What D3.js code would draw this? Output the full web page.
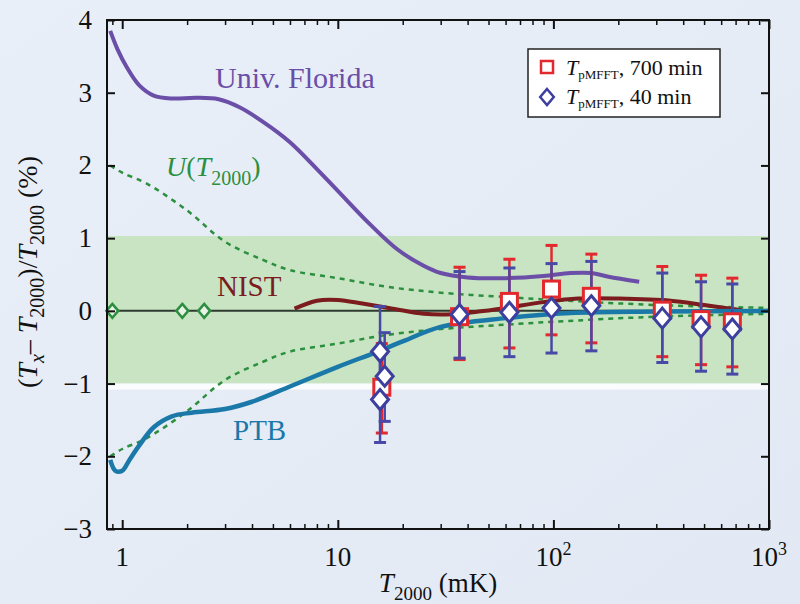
<!DOCTYPE html>
<html>
<head>
<meta charset="utf-8">
<script src="https://cdn.jsdelivr.net/npm/d3@7"></script>
<style>
 body { margin: 0; background: #e6edf7; }
</style>
</head>
<body>
<script>
const width = 800;
const height = 604;

// curves (T2000 in mK, deviation in %)
const floridaT = [0.88, 0.95, 1.05, 1.2, 1.4, 1.7, 2.2, 2.8, 3.5, 4.5, 6, 8, 10, 14, 19, 25, 30, 40, 60, 90, 120, 150, 180, 250];
const floridaD = [3.85, 3.6, 3.35, 3.1, 2.96, 2.92, 2.93, 2.91, 2.8, 2.6, 2.32, 1.95, 1.65, 1.2, 0.84, 0.62, 0.52, 0.46, 0.45, 0.48, 0.52, 0.52, 0.47, 0.40];

const uT = [0.88, 1.0, 1.3, 2.0, 3.0, 4.5, 6, 10, 17, 30, 60, 100, 300, 1000];
const uD = [2.0, 1.9, 1.75, 1.38, 0.95, 0.7, 0.56, 0.45, 0.33, 0.25, 0.19, 0.15, 0.08, 0.04];

const nistT = [6.3, 8, 10, 13, 18, 25, 32, 45, 60, 90, 130, 200, 350, 500, 750];
const nistD = [0.03, 0.14, 0.15, 0.1, 0.03, -0.04, -0.05, -0.01, 0.04, 0.12, 0.17, 0.17, 0.14, 0.08, 0.01];

const ptbT = [0.88, 0.93, 1.0, 1.08, 1.2, 1.4, 1.7, 2.1, 3.0, 4.0, 6, 10, 15, 20, 30, 60, 120, 300, 1000];
const ptbD = [-2.05, -2.2, -2.2, -2.05, -1.85, -1.6, -1.45, -1.4, -1.35, -1.25, -1.04, -0.77, -0.57, -0.42, -0.22, -0.1, -0.03, -0.01, 0];

// green diamonds on the zero line
const zeroT = [0.9, 1.9, 2.4];

// TpMFFT, 700 min (squares)
const sqT = [16.0, 36.7, 62.5, 98, 150, 320, 484, 676];
const sqD = [-1.05, -0.08, 0.13, 0.30, 0.20, 0.01, -0.12, -0.15];
const sqHi = [-0.45, 0.6, 0.71, 0.9, 0.78, 0.61, 0.49, 0.45];
const sqLo = [-1.68, -0.67, -0.51, -0.33, -0.44, -0.63, -0.74, -0.77];

// TpMFFT, 40 min (diamonds)
const dmT = [15.7, 16.5, 15.7, 36.7, 62.5, 98, 150, 320, 484, 676];
const dmD = [-0.56, -0.9, -1.22, -0.05, -0.02, 0.04, 0.07, -0.1, -0.22, -0.25];
const dmHi = [0.06, -0.3, -0.6, 0.54, 0.59, 0.65, 0.68, 0.52, 0.4, 0.37];
const dmLo = [-1.2, -1.52, -1.81, -0.65, -0.63, -0.58, -0.55, -0.71, -0.83, -0.87];

const yTicks = [-3, -2, -1, 0, 1, 2, 3, 4];
const xMajor = [1, 10, 100, 1000];
const xLabels = [["1", ""], ["10", ""], ["10", "2"], ["10", "3"]];

const svg = d3.select("body")
 .append("svg")
 .attr("width", width)
 .attr("height", height)
 .attr("font-family", "'Liberation Serif', 'Times New Roman', 'DejaVu Serif', serif");

const bg = svg.append("defs").append("linearGradient")
 .attr("id", "bg").attr("x1", 0).attr("y1", 0).attr("x2", 1).attr("y2", 1);
bg.append("stop").attr("offset", "0").attr("stop-color", "#e9eff8");
bg.append("stop").attr("offset", "1").attr("stop-color", "#e2e9f4");

svg.append("rect")
 .attr("width", width)
 .attr("height", height)
 .attr("fill", "url(#bg)");

const x = d3.scaleLog()
 .domain([0.85, 1000])
 .range([107, 769]);

const y = d3.scaleLinear()
 .domain([-3, 4])
 .range([529, 20]);

// uncertainty band
svg.append("rect")
 .attr("x", x(0.85))
 .attr("y", y(1.03))
 .attr("width", x(1000) - x(0.85))
 .attr("height", y(-1.0) - y(1.03))
 .attr("fill", "#c8e4c2");

svg.append("rect")
 .attr("x", x(0.85))
 .attr("y", y(-1.0))
 .attr("width", x(1000) - x(0.85))
 .attr("height", 6)
 .attr("fill", "#fbfcfd");

// zero line
svg.append("line")
 .attr("x1", x(0.85)).attr("x2", x(1000))
 .attr("y1", y(0)).attr("y2", y(0))
 .attr("stroke", "#2f3b30")
 .attr("stroke-width", 2);

const line = d3.line()
 .x(d => x(d[0]))
 .y(d => y(d[1]))
 .curve(d3.curveCatmullRom);

const zip = (a, b) => a.map((v, i) => [v, b[i]]);

// U(T2000) dashed envelope
[1, -1].forEach(s => {
 svg.append("path")
  .datum(zip(uT, uD.map(v => s * v)))
  .attr("fill", "none")
  .attr("stroke", "#2c8f3f")
  .attr("stroke-width", 2.5)
  .attr("stroke-dasharray", "5,5")
  .attr("d", line);
});

svg.append("path")
 .datum(zip(floridaT, floridaD))
 .attr("fill", "none")
 .attr("stroke", "#6a4ea8")
 .attr("stroke-width", 4)
 .attr("d", line);

svg.append("path")
 .datum(zip(nistT, nistD))
 .attr("fill", "none")
 .attr("stroke", "#7c1c1e")
 .attr("stroke-width", 4)
 .attr("d", line);

svg.append("path")
 .datum(zip(ptbT, ptbD))
 .attr("fill", "none")
 .attr("stroke", "#1a79a8")
 .attr("stroke-width", 4.5)
 .attr("d", line);

const diamond = (cx, cy, r) => `M${cx},${cy - r}L${cx + r * 0.85},${cy}L${cx},${cy + r}L${cx - r * 0.85},${cy}Z`;

svg.selectAll(".zd")
 .data(zeroT)
 .enter()
 .append("path")
 .attr("d", d => diamond(x(d), y(0), 7))
 .attr("fill", "#e8f2e6")
 .attr("stroke", "#2c8f3f")
 .attr("stroke-width", 2.5);

// error bars
function errorBars(xs, hi, lo, color, cls) {
 const g = svg.append("g").attr("stroke", color).attr("stroke-width", 2.5);
 g.selectAll("." + cls + "v")
  .data(xs)
  .enter()
  .append("line")
  .attr("x1", d => x(d)).attr("x2", d => x(d))
  .attr("y1", (d, i) => y(hi[i])).attr("y2", (d, i) => y(lo[i]));
 [hi, lo].forEach((arr, k) => {
  g.selectAll("." + cls + "c" + k)
   .data(xs)
   .enter()
   .append("line")
   .attr("x1", d => x(d) - 6).attr("x2", d => x(d) + 6)
   .attr("y1", (d, i) => y(arr[i])).attr("y2", (d, i) => y(arr[i]))
   .attr("stroke-width", 3);
 });
}
errorBars(sqT, sqHi, sqLo, "#e3292e", "re");
errorBars(dmT, dmHi, dmLo, "#4848a6", "be");

svg.selectAll(".sq")
 .data(sqT)
 .enter()
 .append("rect")
 .attr("x", d => x(d) - 8)
 .attr("y", (d, i) => y(sqD[i]) - 8)
 .attr("width", 16)
 .attr("height", 16)
 .attr("fill", "#ffffff")
 .attr("stroke", "#e3292e")
 .attr("stroke-width", 3);

svg.selectAll(".dm")
 .data(dmT)
 .enter()
 .append("path")
 .attr("d", (d, i) => diamond(x(d), y(dmD[i]), 10))
 .attr("fill", "#ffffff")
 .attr("stroke", "#3c3f9e")
 .attr("stroke-width", 3);

// frame and axes
svg.append("rect")
 .attr("x", x(0.85))
 .attr("y", y(4))
 .attr("width", x(1000) - x(0.85))
 .attr("height", y(-3) - y(4))
 .attr("fill", "none")
 .attr("stroke", "#111")
 .attr("stroke-width", 2);

const xMinor = x.ticks().filter(t => !xMajor.includes(t) && t >= 0.85);

const axes = [
 [d3.axisBottom(x), y(-3)],
 [d3.axisTop(x), y(4)]
];
axes.forEach(([ax, ty]) => {
 svg.append("g")
  .attr("transform", `translate(0,${ty})`)
  .call(ax.tickValues(xMinor).tickSize(-5).tickFormat(""))
  .call(g => g.select(".domain").remove())
  .selectAll("line").attr("stroke", "#111").attr("stroke-width", 1.5);
 svg.append("g")
  .attr("transform", `translate(0,${ty})`)
  .call(ax.tickValues(xMajor).tickSize(-9).tickFormat(""))
  .call(g => g.select(".domain").remove())
  .selectAll("line").attr("stroke", "#111").attr("stroke-width", 2);
});

svg.append("g")
 .attr("transform", `translate(${x(0.85)},0)`)
 .call(d3.axisLeft(y).tickValues(yTicks).tickSize(-8).tickFormat(""))
 .call(g => g.select(".domain").remove())
 .selectAll("line").attr("stroke", "#111").attr("stroke-width", 2);

svg.append("g")
 .attr("transform", `translate(${x(1000)},0)`)
 .call(d3.axisRight(y).tickValues(yTicks).tickSize(-8).tickFormat(""))
 .call(g => g.select(".domain").remove())
 .selectAll("line").attr("stroke", "#111").attr("stroke-width", 2);

// tick labels
svg.selectAll(".yl")
 .data(yTicks)
 .enter()
 .append("text")
 .attr("x", 92)
 .attr("y", d => y(d) + 9)
 .attr("text-anchor", "end")
 .attr("font-size", 27)
 .attr("fill", "#111")
 .text(d => d < 0 ? "\u2212" + Math.abs(d) : d);

xMajor.forEach((t, i) => {
 const tx = svg.append("text")
  .attr("x", x(t))
  .attr("y", 566)
  .attr("text-anchor", "middle")
  .attr("font-size", 27)
  .attr("fill", "#111");
 tx.append("tspan").text(xLabels[i][0]);
 if (xLabels[i][1]) {
  tx.append("tspan").attr("dy", -11).attr("font-size", 18).text(xLabels[i][1]);
 }
});

// axis titles
const xt = svg.append("text")
 .attr("x", 438)
 .attr("y", 592)
 .attr("text-anchor", "middle")
 .attr("font-size", 27)
 .attr("fill", "#111");
xt.append("tspan").attr("font-style", "italic").text("T");
xt.append("tspan").attr("dy", 8).attr("font-size", 19).text("2000");
xt.append("tspan").attr("dy", -8).text(" (mK)");

const yt = svg.append("text")
 .attr("transform", "translate(37,272) rotate(-90)")
 .attr("text-anchor", "middle")
 .attr("font-size", 28)
 .attr("fill", "#111");
yt.append("tspan").text("(");
yt.append("tspan").attr("font-style", "italic").text("T");
yt.append("tspan").attr("dy", 7).attr("font-size", 20).attr("font-style", "italic").text("x");
yt.append("tspan").attr("dy", -7).text("\u2013 ");
yt.append("tspan").attr("font-style", "italic").text("T");
yt.append("tspan").attr("dy", 7).attr("font-size", 20).text("2000");
yt.append("tspan").attr("dy", -7).text(")/");
yt.append("tspan").attr("font-style", "italic").text("T");
yt.append("tspan").attr("dy", 7).attr("font-size", 20).text("2000");
yt.append("tspan").attr("dy", -7).text(" (%)");

// curve labels
svg.append("text")
 .attr("x", 215).attr("y", 88)
 .attr("font-size", 30).attr("fill", "#6a4ea8")
 .text("Univ. Florida");

const ul = svg.append("text")
 .attr("x", 166).attr("y", 176)
 .attr("font-size", 28).attr("fill", "#2c8f3f");
ul.append("tspan").attr("font-style", "italic").text("U");
ul.append("tspan").text("(");
ul.append("tspan").attr("font-style", "italic").text("T");
ul.append("tspan").attr("dy", 9).attr("font-size", 20).text("2000");
ul.append("tspan").attr("dy", -9).text(")");

svg.append("text")
 .attr("x", 217).attr("y", 296)
 .attr("font-size", 29).attr("fill", "#7c1c1e")
 .text("NIST");

svg.append("text")
 .attr("x", 233).attr("y", 440)
 .attr("font-size", 29).attr("fill", "#1a79a8")
 .text("PTB");

// legend
svg.append("rect")
 .attr("x", 528).attr("y", 49)
 .attr("width", 192).attr("height", 68)
 .attr("fill", "#ffffff")
 .attr("stroke", "#222")
 .attr("stroke-width", 1.5);

svg.append("rect")
 .attr("x", 541).attr("y", 61)
 .attr("width", 12).attr("height", 12)
 .attr("fill", "#ffffff")
 .attr("stroke", "#e3292e")
 .attr("stroke-width", 2.5);

svg.append("path")
 .attr("d", diamond(547, 97, 8))
 .attr("fill", "#ffffff")
 .attr("stroke", "#3c3f9e")
 .attr("stroke-width", 2.5);

["700 min", "40 min"].forEach((lab, i) => {
 const t = svg.append("text")
  .attr("x", 566).attr("y", 75 + i * 29)
  .attr("font-size", 22).attr("fill", "#111");
 t.append("tspan").attr("font-style", "italic").text("T");
 t.append("tspan").attr("dy", 4).attr("font-size", 13).text("pMFFT");
 t.append("tspan").attr("dy", -4).text(", " + lab);
});
</script>
</body>
</html>
